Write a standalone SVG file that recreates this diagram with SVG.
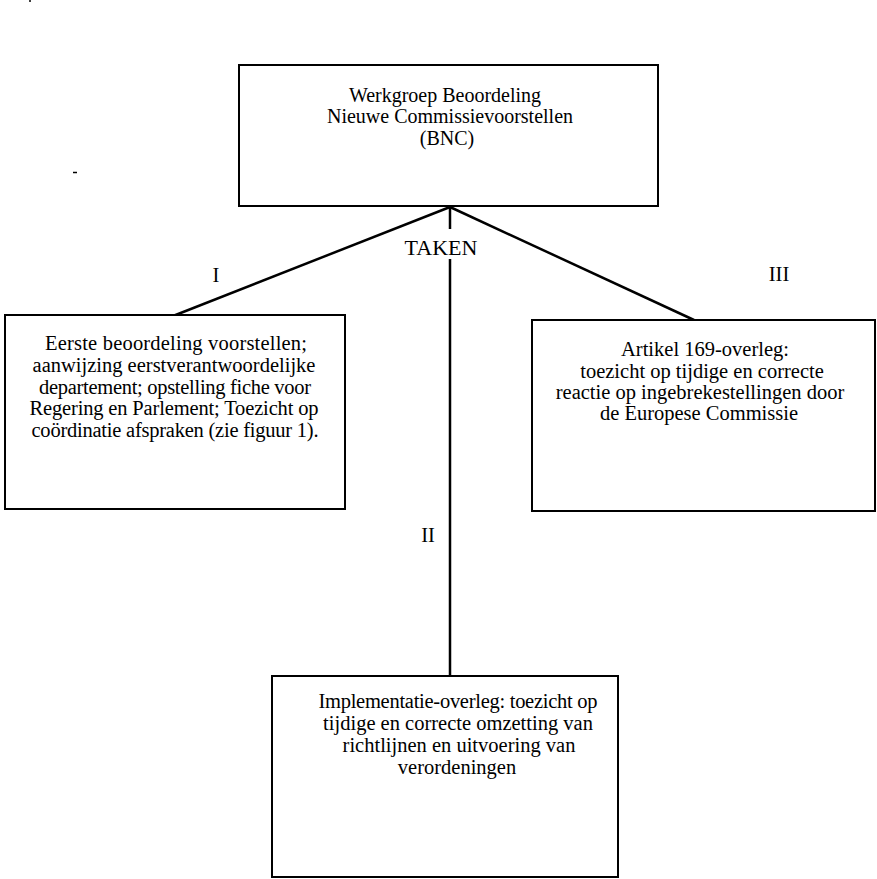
<svg xmlns="http://www.w3.org/2000/svg" width="877" height="879" viewBox="0 0 877 879">
<style>
.box{fill:#fff;stroke:#000;stroke-width:2}
.t{font-family:"Liberation Serif","Times New Roman",serif;font-size:20.5px;fill:#000;text-anchor:middle}
.con{stroke:#000;stroke-width:2.5;fill:none}
</style>
<rect width="877" height="879" fill="#fff"/>
<g id="artifacts" stroke="#000" stroke-width="1.5">
<line x1="30" y1="0" x2="30" y2="2"/>
<line x1="73" y1="172.5" x2="77" y2="172.5"/>
</g>
<g id="connectors">
<line class="con" x1="450" y1="207" x2="173" y2="316"/>
<line class="con" x1="450" y1="207" x2="694" y2="320"/>
<line class="con" x1="450" y1="207" x2="450" y2="229"/>
<line class="con" x1="450" y1="259" x2="450" y2="676"/>
<text class="t" x="441" y="255" style="font-size:22px">TAKEN</text>
<text class="t" x="216" y="282">I</text>
<text class="t" x="428" y="542">II</text>
<text class="t" x="779" y="281">III</text>
</g>
<g id="bnc">
<rect class="box" x="239" y="65" width="419" height="141"/>
<text class="t" x="445" y="102" style="font-size:20px">Werkgroep Beoordeling</text>
<text class="t" x="450" y="123" style="font-size:20px">Nieuwe Commissievoorstellen</text>
<text class="t" x="447" y="145" style="font-size:20px">(BNC)</text>
</g>
<g id="taak1">
<rect class="box" x="5" y="315" width="340" height="194"/>
<text class="t" x="176" y="350" textLength="262" lengthAdjust="spacing">Eerste beoordeling voorstellen;</text>
<text class="t" x="174" y="372">aanwijzing eerstverantwoordelijke</text>
<text class="t" x="175" y="394" textLength="272" lengthAdjust="spacing">departement; opstelling fiche voor</text>
<text class="t" x="174" y="415" textLength="289" lengthAdjust="spacing">Regering en Parlement; Toezicht op</text>
<text class="t" x="175" y="437" textLength="287" lengthAdjust="spacing">coördinatie afspraken (zie figuur 1).</text>
</g>
<g id="taak3">
<rect class="box" x="532" y="320" width="343" height="191"/>
<text class="t" x="705" y="356">Artikel 169-overleg:</text>
<text class="t" x="702" y="378">toezicht op tijdige en correcte</text>
<text class="t" x="700" y="399">reactie op ingebrekestellingen door</text>
<text class="t" x="699" y="420">de Europese Commissie</text>
</g>
<g id="taak2">
<rect class="box" x="272" y="676" width="346" height="201"/>
<text class="t" x="458" y="708" textLength="279" lengthAdjust="spacing">Implementatie-overleg: toezicht op</text>
<text class="t" x="458" y="730">tijdige en correcte omzetting van</text>
<text class="t" x="459" y="752">richtlijnen en uitvoering van</text>
<text class="t" x="457" y="774">verordeningen</text>
</g>
</svg>
